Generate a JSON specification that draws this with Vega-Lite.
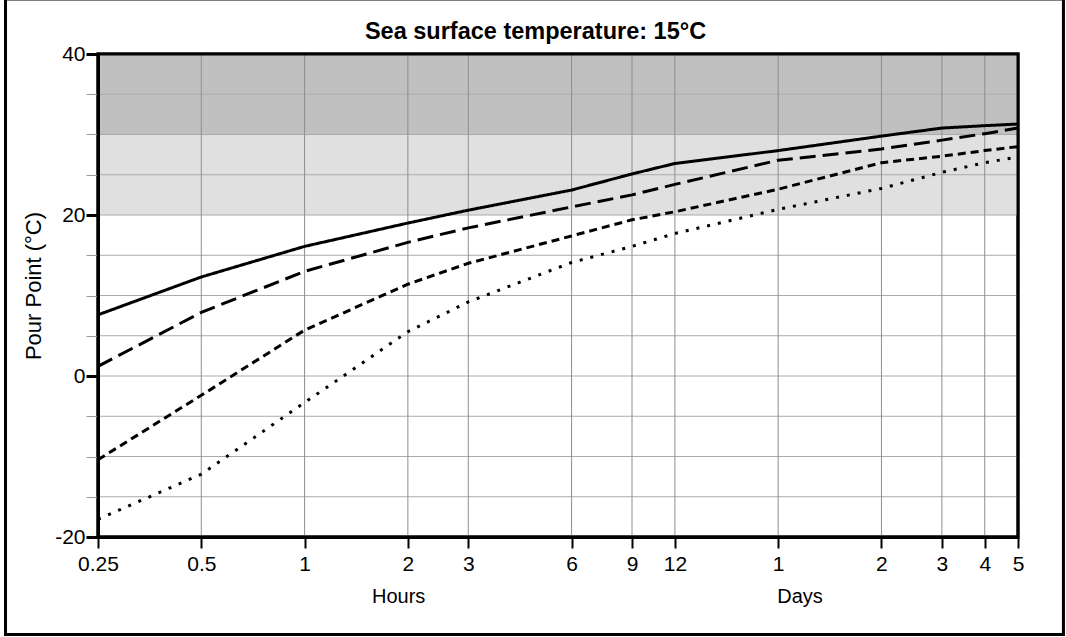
{
  "$schema": "https://vega.github.io/schema/vega-lite/v6.json",
  "width": 920,
  "height": 483,
  "autosize": {"type": "none"},
  "padding": {"left": 98, "top": 54, "right": 48, "bottom": 100},
  "background": "white",
  "config": {
    "view": {"stroke": "black", "strokeWidth": 3},
    "font": "Liberation Sans"
  },
  "datasets": {
    "series": [
      {"series": "A", "hours": 0.25, "pour": 7.6},
      {"series": "A", "hours": 0.5, "pour": 12.3},
      {"series": "A", "hours": 1, "pour": 16.1},
      {"series": "A", "hours": 2, "pour": 19.0},
      {"series": "A", "hours": 3, "pour": 20.6},
      {"series": "A", "hours": 6, "pour": 23.1},
      {"series": "A", "hours": 9, "pour": 25.1},
      {"series": "A", "hours": 12, "pour": 26.4},
      {"series": "A", "hours": 24, "pour": 28.0},
      {"series": "A", "hours": 48, "pour": 29.8},
      {"series": "A", "hours": 72, "pour": 30.8},
      {"series": "A", "hours": 96, "pour": 31.1},
      {"series": "A", "hours": 120, "pour": 31.3},
      {"series": "B", "hours": 0.25, "pour": 1.2},
      {"series": "B", "hours": 0.5, "pour": 7.9},
      {"series": "B", "hours": 1, "pour": 13.0},
      {"series": "B", "hours": 2, "pour": 16.6},
      {"series": "B", "hours": 3, "pour": 18.4},
      {"series": "B", "hours": 6, "pour": 21.0},
      {"series": "B", "hours": 9, "pour": 22.5},
      {"series": "B", "hours": 12, "pour": 23.8},
      {"series": "B", "hours": 24, "pour": 26.8},
      {"series": "B", "hours": 48, "pour": 28.2},
      {"series": "B", "hours": 72, "pour": 29.3},
      {"series": "B", "hours": 96, "pour": 30.1},
      {"series": "B", "hours": 120, "pour": 30.8},
      {"series": "C", "hours": 0.25, "pour": -10.4},
      {"series": "C", "hours": 0.5, "pour": -2.4},
      {"series": "C", "hours": 1, "pour": 5.7},
      {"series": "C", "hours": 2, "pour": 11.4},
      {"series": "C", "hours": 3, "pour": 14.0},
      {"series": "C", "hours": 6, "pour": 17.4},
      {"series": "C", "hours": 9, "pour": 19.4},
      {"series": "C", "hours": 12, "pour": 20.4},
      {"series": "C", "hours": 24, "pour": 23.2},
      {"series": "C", "hours": 48, "pour": 26.5},
      {"series": "C", "hours": 72, "pour": 27.3},
      {"series": "C", "hours": 96, "pour": 28.0},
      {"series": "C", "hours": 120, "pour": 28.5},
      {"series": "D", "hours": 0.25, "pour": -17.8},
      {"series": "D", "hours": 0.5, "pour": -12.2},
      {"series": "D", "hours": 1, "pour": -3.3},
      {"series": "D", "hours": 2, "pour": 5.5},
      {"series": "D", "hours": 3, "pour": 9.2},
      {"series": "D", "hours": 6, "pour": 14.1},
      {"series": "D", "hours": 9, "pour": 16.1},
      {"series": "D", "hours": 12, "pour": 17.7},
      {"series": "D", "hours": 24, "pour": 20.7},
      {"series": "D", "hours": 48, "pour": 23.3},
      {"series": "D", "hours": 72, "pour": 25.3},
      {"series": "D", "hours": 96, "pour": 26.5},
      {"series": "D", "hours": 120, "pour": 27.2}
    ],
    "bands": [
      {"zone": "upper", "lo": 30, "hi": 40},
      {"zone": "middle", "lo": 20, "hi": 30}
    ],
    "hgrid": [
      {"pour": -15}, {"pour": -10}, {"pour": -5}, {"pour": 0}, {"pour": 5},
      {"pour": 10}, {"pour": 15}, {"pour": 20}, {"pour": 25}, {"pour": 30}, {"pour": 35}
    ],
    "vgrid": [
      {"hours": 0.5}, {"hours": 1}, {"hours": 2}, {"hours": 3}, {"hours": 6},
      {"hours": 9}, {"hours": 12}, {"hours": 24}, {"hours": 48}, {"hours": 72}, {"hours": 96}
    ],
    "units": [
      {"unit": "Hours", "hours": 1.88},
      {"unit": "Days", "hours": 27.8}
    ]
  },
  "layer": [
    {
      "data": {"name": "bands"},
      "mark": {"type": "rect"},
      "encoding": {
        "y": {"field": "lo", "type": "quantitative", "scale": {"domain": [-20, 40], "nice": false, "zero": false}},
        "y2": {"field": "hi"},
        "color": {"field": "zone", "type": "nominal", "scale": {"domain": ["upper", "middle"], "range": ["#c0c0c0", "#e0e0e0"]}, "legend": null}
      }
    },
    {
      "data": {"name": "hgrid"},
      "mark": {"type": "rule", "color": "#aaaaaa", "strokeWidth": 1},
      "encoding": {
        "y": {"field": "pour", "type": "quantitative"}
      }
    },
    {
      "data": {"name": "vgrid"},
      "mark": {"type": "rule", "color": "#8e8e8e", "strokeWidth": 1},
      "encoding": {
        "x": {"field": "hours", "type": "quantitative"}
      }
    },
    {
      "data": {"name": "series"},
      "mark": {"type": "line", "color": "black", "strokeWidth": 3, "strokeCap": "butt"},
      "encoding": {
        "x": {
          "field": "hours", "type": "quantitative",
          "scale": {"type": "log", "domain": [0.25, 120], "nice": false},
          "axis": {
            "values": [0.25, 0.5, 1, 2, 3, 6, 9, 12, 24, 48, 72, 96, 120],
            "labelExpr": "datum.value >= 24 ? '' + (datum.value / 24) : '' + datum.value",
            "title": null,
            "grid": false,
            "zindex": 1,
            "domainColor": "black",
            "domainWidth": 3,
            "tickColor": "black",
            "tickWidth": 2,
            "tickSize": 11,
            "labelFont": "Liberation Sans",
            "labelFontSize": 21,
            "labelColor": "black",
            "labelPadding": 5,
            "labelOverlap": false,
            "labelFlush": false,
            "labelBound": false
          }
        },
        "y": {
          "field": "pour", "type": "quantitative",
          "scale": {"domain": [-20, 40], "nice": false, "zero": false},
          "axis": {
            "values": [-20, -15, -10, -5, 0, 5, 10, 15, 20, 25, 30, 35, 40],
            "labelExpr": "datum.value % 20 === 0 ? '' + datum.value : ''",
            "title": "Pour Point (°C)",
            "titleFont": "Liberation Sans",
            "titleFontSize": 22,
            "titleFontWeight": "normal",
            "titleColor": "black",
            "titleX": -58,
            "titleY": 231.5,
            "titleAngle": -90,
            "titleAlign": "center",
            "titleBaseline": "alphabetic",
            "grid": false,
            "zindex": 1,
            "domainColor": "black",
            "domainWidth": 3,
            "tickColor": {"condition": {"test": "datum.value % 20 === 0", "value": "black"}, "value": "#999999"},
            "tickWidth": {"condition": {"test": "datum.value % 20 === 0", "value": 3}, "value": 1},
            "tickSize": 12,
            "labelFont": "Liberation Sans",
            "labelFontSize": 21,
            "labelColor": "black",
            "labelPadding": 1,
            "labelOverlap": false,
            "labelFlush": false,
            "labelBound": false
          }
        },
        "strokeDash": {
          "field": "series", "type": "nominal",
          "scale": {"domain": ["A", "B", "C", "D"], "range": [[1, 0], [16, 7], [8, 5], [3, 8]]},
          "legend": null
        }
      }
    },
    {
      "data": {"values": [{"frame": "plot"}]},
      "mark": {"type": "rect", "fill": null, "fillOpacity": 0, "stroke": "black", "strokeWidth": 3},
      "encoding": {}
    },
    {
      "data": {"name": "units"},
      "mark": {"type": "text", "font": "Liberation Sans", "fontSize": 20, "color": "black", "align": "center", "baseline": "alphabetic"},
      "encoding": {
        "x": {"field": "hours", "type": "quantitative"},
        "y": {"datum": -28.2},
        "text": {"field": "unit"}
      }
    },
    {
      "data": {"values": [{"title": "Sea surface temperature: 15°C"}]},
      "mark": {"type": "text", "font": "Liberation Sans", "fontSize": 23.5, "fontWeight": "bold", "color": "black", "align": "center", "baseline": "alphabetic"},
      "encoding": {
        "x": {"datum": 4.71},
        "y": {"datum": 41.86},
        "text": {"field": "title"}
      }
    },
    {
      "data": {"values": [{"frame": "outer"}]},
      "mark": {"type": "rect", "fill": null, "fillOpacity": 0, "stroke": "black", "strokeWidth": 3},
      "encoding": {
        "x": {"datum": 0.1344},
        "x2": {"datum": 162.8},
        "y": {"datum": 46.83},
        "y2": {"datum": -32.11}
      }
    }
  ]
}
